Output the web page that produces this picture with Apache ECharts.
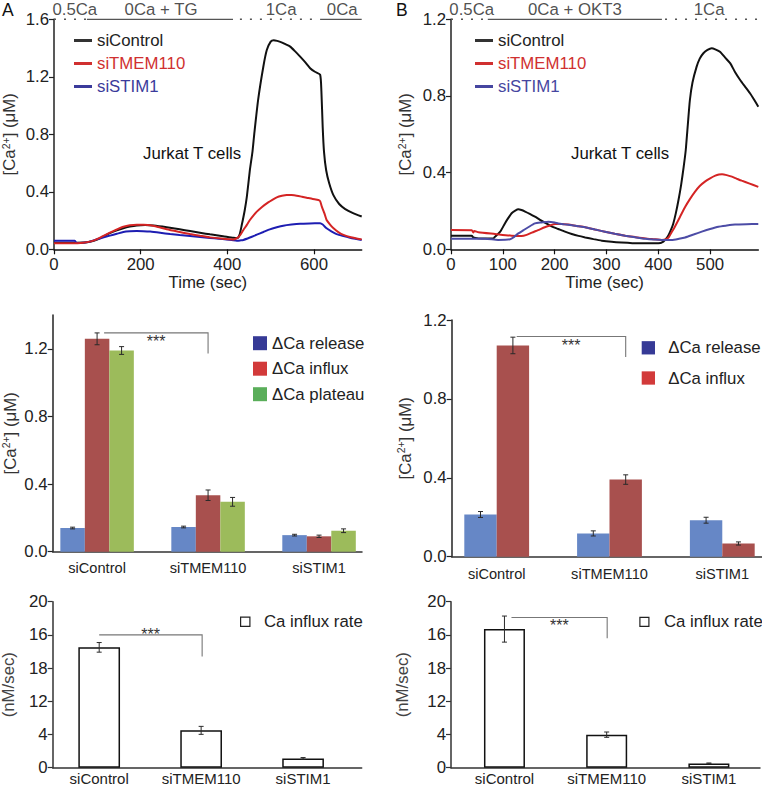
<!DOCTYPE html>
<html><head><meta charset="utf-8">
<script src="https://cdn.jsdelivr.net/npm/echarts@6/dist/echarts.min.js"></script>
<style>html,body{margin:0;padding:0;background:#fff}#c{width:762px;height:788px}</style>
</head><body><div id="c"></div>
<script>
// ================= DATA =================
const groups = ['siControl', 'siTMEM110', 'siSTIM1'];

// Panel A traces: [time (sec), [Ca2+] (uM)]
const ctrlA = [[0,0.046],[40,0.046],[70,0.047],[85,0.054],[98,0.066],[113,0.088],[129,0.112],[145,0.132],[160,0.147],[175,0.158],[191,0.166],[210,0.169],[230,0.165],[260,0.153],[290,0.139],[314,0.127],[340,0.114],[360,0.104],[390,0.091],[414,0.080],[423,0.078],[428,0.1],[433,0.165],[440,0.27],[445,0.366],[452,0.552],[458,0.68],[462,0.8],[471,1.04],[483,1.27],[491,1.386],[500,1.445],[507,1.455],[515,1.45],[525,1.44],[535,1.425],[545,1.41],[557,1.375],[568,1.34],[580,1.30],[591,1.26],[602,1.235],[614,1.215],[617,1.1],[620,0.85],[623,0.68],[628,0.55],[635,0.46],[645,0.375],[658,0.315],[672,0.28],[690,0.252],[710,0.228]];
const tmemA = [[0,0.042],[40,0.042],[68,0.046],[85,0.055],[98,0.069],[113,0.092],[129,0.116],[145,0.138],[160,0.157],[175,0.167],[191,0.171],[206,0.17],[222,0.167],[240,0.155],[260,0.139],[287,0.122],[314,0.106],[337,0.094],[360,0.083],[385,0.075],[414,0.069],[425,0.083],[431,0.105],[437,0.134],[445,0.17],[452,0.204],[460,0.235],[468,0.262],[480,0.295],[491,0.32],[503,0.342],[514,0.361],[526,0.372],[537,0.378],[548,0.377],[560,0.373],[572,0.366],[583,0.359],[597,0.35],[610,0.343],[614,0.335],[618,0.297],[624,0.25],[629,0.204],[637,0.172],[645,0.146],[656,0.12],[668,0.1],[685,0.084],[710,0.069]];
const stimA = [[0,0.06],[48,0.06],[52,0.043],[68,0.046],[85,0.055],[98,0.069],[113,0.082],[129,0.095],[145,0.108],[160,0.12],[175,0.125],[191,0.127],[206,0.126],[222,0.123],[245,0.115],[268,0.106],[290,0.099],[314,0.093],[337,0.086],[360,0.079],[380,0.074],[398,0.069],[410,0.065],[422,0.06],[430,0.062],[437,0.065],[452,0.082],[468,0.102],[483,0.12],[498,0.139],[514,0.153],[529,0.164],[548,0.172],[568,0.178],[590,0.18],[614,0.181],[620,0.172],[629,0.146],[640,0.125],[652,0.106],[668,0.092],[683,0.081],[698,0.072],[710,0.065]];

// Panel B traces
const ctrlB = [[0,0.071],[40,0.071],[43,0.062],[53,0.057],[70,0.056],[82,0.057],[85,0.066],[95,0.092],[104,0.135],[111,0.165],[117,0.188],[124,0.202],[130,0.209],[136,0.205],[143,0.197],[152,0.185],[162,0.17],[171,0.155],[181,0.139],[194,0.12],[207,0.106],[220,0.092],[233,0.08],[246,0.07],[259,0.062],[275,0.053],[291,0.045],[310,0.039],[329,0.035],[350,0.032],[375,0.031],[400,0.031],[410,0.04],[415,0.055],[420,0.075],[425,0.105],[429,0.135],[434,0.19],[439,0.257],[444,0.335],[449,0.43],[453,0.518],[457,0.65],[461,0.779],[466,0.87],[474,0.953],[480,0.995],[487,1.023],[495,1.04],[503,1.049],[511,1.042],[519,1.031],[529,1.0],[539,0.97],[548,0.925],[558,0.883],[567,0.85],[577,0.814],[585,0.78],[593,0.744]];
const tmemB = [[0,0.101],[40,0.1],[43,0.088],[45,0.096],[53,0.089],[85,0.08],[117,0.071],[136,0.069],[146,0.075],[156,0.087],[168,0.1],[181,0.115],[191,0.124],[201,0.132],[213,0.132],[226,0.129],[242,0.122],[259,0.115],[278,0.103],[297,0.092],[316,0.081],[336,0.071],[355,0.064],[375,0.057],[391,0.053],[407,0.049],[415,0.053],[420,0.062],[426,0.09],[432,0.118],[442,0.17],[452,0.222],[461,0.262],[471,0.301],[480,0.33],[490,0.353],[500,0.37],[510,0.384],[517,0.39],[523,0.391],[532,0.387],[542,0.379],[551,0.369],[561,0.358],[575,0.344],[593,0.326]];
const stimB = [[0,0.055],[66,0.055],[91,0.049],[114,0.052],[122,0.065],[130,0.083],[140,0.1],[149,0.115],[162,0.135],[175,0.14],[188,0.144],[200,0.14],[207,0.135],[220,0.13],[233,0.125],[246,0.12],[259,0.115],[278,0.103],[297,0.092],[316,0.081],[336,0.071],[355,0.063],[375,0.055],[391,0.051],[407,0.049],[426,0.049],[440,0.055],[452,0.062],[468,0.077],[484,0.092],[500,0.106],[516,0.118],[532,0.124],[548,0.129],[570,0.131],[593,0.132]];

// Solution protocol (time spans in sec)
const protoSegA = [[0,76,'dotted'],[76,413,'solid'],[429,598,'dotted'],[614,710,'solid']];
const protoLblA = [[48,'0.5Ca'],[247,'0Ca + TG'],[524,'1Ca'],[665,'0Ca']];
const protoSegB = [[0,70,'dotted'],[71,407,'solid'],[413,593,'dotted']];
const protoLblB = [[40,'0.5Ca'],[239,'0Ca + OKT3'],[498,'1Ca']];

// Summary bars, left (TG) column
const releaseL = [0.140, 0.146, 0.098];
const releaseLErr = [0.005, 0.005, 0.005];
const influxL = [1.259, 0.334, 0.091];
const influxLErr = [0.035, 0.031, 0.007];
const plateauL = [1.19, 0.295, 0.124];
const plateauLErr = [0.023, 0.026, 0.011];
// Summary bars, right (OKT3) column
const releaseR = [0.214, 0.118, 0.185];
const releaseRErr = [0.015, 0.013, 0.015];
const influxR = [1.071, 0.391, 0.067];
const influxRErr = [0.042, 0.024, 0.008];
// Influx rate (nM/sec)
const rateL = [14.5, 4.5, 1.12];
const rateLErr = [0.58, 0.48, 0.1];
const rateR = [16.7, 3.98, 0.52];
const rateRErr = [1.57, 0.32, 0.05];
// significance brackets: [fromGroup, toGroup, topY, tickEndY]
const sigMidL = [0, 1, 1.294, 1.172];
const sigMidR = [0, 1, 1.116, 1.012];
const sigBotL = [0, 1, 16.0, 13.4];
const sigBotR = [0, 1, 18.1, 15.6];
// tick labels as printed
const rateTickLabels = ['0', '4', '12', '18', '16', '20'];
const timeTicksA = [0, 200, 400, 600];
const timeTicksB = [0, 100, 200, 300, 400, 500];

// ================= STYLE / LAYOUT =================
const FONT = 'Liberation Sans, Arial, Helvetica, sans-serif';
const FS = 16.8;
const TXT = '#222';
const C_BLACK = '#111', C_RED = '#d42424', C_BLUE_A = '#1d1db2', C_BLUE_B = '#4c4ca6';
const BAR_BLUE = '#6687c6', BAR_RED = '#a8504e', BAR_GREEN = '#9cbb5b';
const LEG_BLUE = '#363a96', LEG_RED = '#d23a3a', LEG_GREEN = '#5aae5a';
const caName = '[Ca{sup|2+}] (μM)';
const caRich = { sup: { fontSize: 10.5, padding: [0, 0, 8, 0], fontFamily: FONT, color: '#333' } };

const grids = [
  { left: 54, top: 19.3, width: 307.7, height: 230 },
  { left: 451, top: 19.3, width: 307.3, height: 230 },
  { left: 52.7, top: 315, width: 309.3, height: 236.7 },
  { left: 451.7, top: 320, width: 315.7, height: 236.7 },
  { left: 52.7, top: 601.7, width: 309, height: 166 },
  { left: 451, top: 601.7, width: 309, height: 166 }
].map(g => Object.assign({ outerBoundsMode: 'none', containLabel: false }, g));

function line(w, c) { return { show: true, onZero: false, lineStyle: { color: c || '#222', width: w } }; }

function timeAxis(gi, max, ticks) {
  return {
    gridIndex: gi, type: 'value', min: 0, max: max,
    axisLine: line(1.5, '#111'),
    axisTick: { show: true, length: 5, customValues: ticks, lineStyle: { color: '#111', width: 1.2 } },
    axisLabel: { customValues: ticks, margin: 7, fontSize: FS, color: TXT, fontFamily: FONT },
    splitLine: { show: false },
    name: 'Time (sec)', nameLocation: 'middle', nameGap: 24,
    nameTextStyle: { fontSize: FS, color: TXT, fontFamily: FONT }
  };
}
function groupAxis(gi, min, max, margin, fs) {
  return {
    gridIndex: gi, type: 'value', min: min, max: max,
    axisLine: line(1.5, '#333'),
    axisTick: { show: false },
    axisLabel: { customValues: [0, 1, 2], margin: margin, fontSize: fs, color: TXT, fontFamily: FONT,
      formatter: v => groups[Math.round(v)] },
    splitLine: { show: false }
  };
}
function concAxis(gi, max, ticks, gap) {
  return {
    gridIndex: gi, type: 'value', min: 0, max: max, interval: 0.4,
    axisLine: line(1.5, '#222'),
    axisTick: { show: true, length: 5, customValues: ticks, lineStyle: { color: '#222', width: 1.2 } },
    axisLabel: { customValues: ticks, margin: 5, fontSize: FS, color: TXT, fontFamily: FONT, formatter: v => v.toFixed(1) },
    splitLine: { show: false },
    name: caName, nameLocation: 'middle', nameRotate: 90, nameGap: gap,
    nameTextStyle: { fontSize: FS, color: '#333', fontFamily: FONT, rich: caRich }
  };
}
function rateAxis(gi, gap) {
  return {
    gridIndex: gi, type: 'value', min: 0, max: 20, interval: 4,
    axisLine: line(1.5, '#333'),
    axisTick: { show: true, length: 5, lineStyle: { color: '#333', width: 1.2 } },
    axisLabel: { margin: 5, fontSize: FS, color: TXT, fontFamily: FONT, formatter: v => rateTickLabels[Math.round(v / 4)] },
    splitLine: { show: false },
    name: '(nM/sec)', nameLocation: 'middle', nameRotate: 90, nameGap: gap,
    nameTextStyle: { fontSize: FS, color: '#444', fontFamily: FONT }
  };
}

const xAxis = [
  timeAxis(0, 710, timeTicksA),
  timeAxis(1, 593, timeTicksB),
  groupAxis(2, -0.4, 2.387, 9, 14.6),
  groupAxis(3, -0.399, 2.4, 10, 14.6),
  groupAxis(4, -0.456, 2.575, 3, 15),
  groupAxis(5, -0.523, 2.5, 3, 15)
];
const yAxis = [
  concAxis(0, 1.6, [0, 0.4, 0.8, 1.2, 1.6], 35),
  concAxis(1, 1.2, [0, 0.4, 0.8, 1.2], 36),
  concAxis(2, 1.4, [0, 0.4, 0.8, 1.2], 33),
  concAxis(3, 1.2, [0, 0.4, 0.8, 1.2], 37),
  rateAxis(4, 36),
  rateAxis(5, 40)
];

function trace(name, data, color, gi) {
  return { type: 'line', name: name, data: data, xAxisIndex: gi, yAxisIndex: gi, symbol: 'none', showSymbol: false,
    smooth: 0.2, lineStyle: { color: color, width: 2 }, itemStyle: { color: color }, silent: true, z: 3 };
}
function protoSeries(gi, top, segs, labels) {
  const out = segs.map(s => ({
    type: 'line', xAxisIndex: gi, yAxisIndex: gi, symbol: 'none', silent: true, clip: false, z: 4,
    data: [[s[0], top], [s[1], top]],
    lineStyle: s[2] === 'dotted' ? { color: '#555', width: 1.6, type: [2, 8] } : { color: '#555', width: 1.2, type: 'solid' }
  }));
  out.push({
    type: 'scatter', xAxisIndex: gi, yAxisIndex: gi, symbol: 'circle', symbolSize: 1, silent: true, clip: false,
    itemStyle: { color: 'rgba(0,0,0,0)' },
    data: labels.map(l => ({ name: l[1], value: [l[0], top] })),
    label: { show: true, position: 'top', distance: 1, formatter: '{b}', fontSize: FS, color: TXT, fontFamily: FONT }
  });
  return out;
}
function bars(name, gi, vals, color, width, extra) {
  return Object.assign({ type: 'bar', name: name, xAxisIndex: gi, yAxisIndex: gi, barWidth: width, barGap: '0%',
    data: vals.map((v, i) => [i, v]), itemStyle: { color: color }, silent: true, z: 2 }, extra || {});
}
function errBars(gi, vals, errs, dx, cap) {
  return { type: 'custom', xAxisIndex: gi, yAxisIndex: gi, silent: true, z: 6,
    data: vals.map((v, i) => [i, v, errs[i]]),
    renderItem: function (params, api) {
      const x = api.value(0), v = api.value(1), e = api.value(2);
      const t = api.coord([x, v + e]), b = api.coord([x, v - e]);
      const cx = t[0] + dx;
      const st = { stroke: '#2a2a2a', lineWidth: 1 };
      return { type: 'group', children: [
        { type: 'line', shape: { x1: cx, y1: t[1], x2: cx, y2: b[1] }, style: st },
        { type: 'line', shape: { x1: cx - cap, y1: t[1], x2: cx + cap, y2: t[1] }, style: st },
        { type: 'line', shape: { x1: cx - cap, y1: b[1], x2: cx + cap, y2: b[1] }, style: st }
      ] };
    } };
}
function bracket(gi, item, dx1, dx2, textDy) {
  return { type: 'custom', xAxisIndex: gi, yAxisIndex: gi, silent: true, z: 7, data: [item],
    renderItem: function (params, api) {
      const a = api.coord([api.value(0), api.value(2)]);
      const b = api.coord([api.value(1), api.value(2)]);
      const c = api.coord([api.value(1), api.value(3)]);
      const x1 = a[0] + dx1, x2 = b[0] + dx2;
      return { type: 'group', children: [
        { type: 'polyline', shape: { points: [[x1, a[1]], [x2, a[1]], [x2, c[1]]] }, style: { stroke: '#777', lineWidth: 1.1, fill: null } },
        { type: 'text', x: (x1 + x2) / 2, y: a[1] + textDy,
          style: { text: '***', fontSize: 16, fontFamily: FONT, fill: '#333', align: 'center', verticalAlign: 'top' } }
      ] };
    } };
}

const series = [].concat(
  [trace('siControl', ctrlA, C_BLACK, 0), trace('siSTIM1', stimA, C_BLUE_A, 0), trace('siTMEM110', tmemA, C_RED, 0)],
  [trace('siControl', ctrlB, C_BLACK, 1), trace('siTMEM110', tmemB, C_RED, 1), trace('siSTIM1', stimB, C_BLUE_B, 1)],
  protoSeries(0, 1.6, protoSegA, protoLblA),
  protoSeries(1, 1.2, protoSegB, protoLblB),
  [
    bars('ΔCa release', 2, releaseL, BAR_BLUE, 24.5),
    bars('ΔCa influx', 2, influxL, BAR_RED, 24.5),
    bars('ΔCa plateau', 2, plateauL, BAR_GREEN, 24.5),
    errBars(2, releaseL, releaseLErr, -24.5, 2.5),
    errBars(2, influxL, influxLErr, 0, 2.5),
    errBars(2, plateauL, plateauLErr, 24.5, 2.5),
    bracket(2, sigMidL, 7, 0, 0.5),

    bars('ΔCa release', 3, releaseR, BAR_BLUE, 32.4),
    bars('ΔCa influx', 3, influxR, BAR_RED, 32.4),
    errBars(3, releaseR, releaseRErr, -16.2, 2.5),
    errBars(3, influxR, influxRErr, 16.2, 2.5),
    bracket(3, sigMidR, 20, 16.2, 1),

    bars('Ca influx rate', 4, rateL, '#fff', 41.7, { itemStyle: { color: '#fff', borderColor: '#111', borderWidth: 1.5 } }),
    errBars(4, rateL, rateLErr, 0, 2.5),
    bracket(4, sigBotL, 0, 1, -8.5),

    bars('Ca influx rate', 5, rateR, '#fff', 41, { itemStyle: { color: '#fff', borderColor: '#111', borderWidth: 1.5 } }),
    errBars(5, rateR, rateRErr, 0, 2.5),
    bracket(5, sigBotR, 7, 0.5, 0.5)
  ]
);

const legTxt = { fontSize: FS, color: TXT, fontFamily: FONT };
function spacedTxt(w) {
  return Object.assign({}, legTxt, { rich: { g: { width: w, fontSize: FS } } });
}
const spaced = name => '{g| }' + name;
const legend = [
  { left: 74, top: 32, orient: 'vertical', icon: 'rect', itemWidth: 18, itemHeight: 3, itemGap: 6, selectedMode: false, padding: 0,
    textStyle: legTxt,
    data: [
      { name: 'siControl', itemStyle: { color: '#333' }, textStyle: { color: '#222' } },
      { name: 'siTMEM110', itemStyle: { color: '#d03030' }, textStyle: { color: '#d03030' } },
      { name: 'siSTIM1', itemStyle: { color: '#3b3b9b' }, textStyle: { color: '#3b3b9b' } }
    ] },
  { left: 475, top: 32, orient: 'vertical', icon: 'rect', itemWidth: 18, itemHeight: 3, itemGap: 6, selectedMode: false, padding: 0,
    textStyle: legTxt,
    data: [
      { name: 'siControl', itemStyle: { color: '#333' }, textStyle: { color: '#222' } },
      { name: 'siTMEM110', itemStyle: { color: '#d03030' }, textStyle: { color: '#d03030' } },
      { name: 'siSTIM1', itemStyle: { color: '#4646a0' }, textStyle: { color: '#4646a0' } }
    ] },
  { left: 253, top: 334.7, orient: 'vertical', icon: 'rect', itemWidth: 14, itemHeight: 14, itemGap: 8.5, selectedMode: false, padding: 0,
    textStyle: legTxt,
    data: [
      { name: 'ΔCa release', itemStyle: { color: LEG_BLUE } },
      { name: 'ΔCa influx', itemStyle: { color: LEG_RED } },
      { name: 'ΔCa plateau', itemStyle: { color: LEG_GREEN } }
    ] },
  { left: 641.7, top: 339.3, orient: 'vertical', icon: 'rect', itemWidth: 13.3, itemHeight: 13.3, itemGap: 13.2, selectedMode: false, padding: 0,
    textStyle: spacedTxt(8.3), formatter: spaced,
    data: [
      { name: 'ΔCa release', itemStyle: { color: LEG_BLUE } },
      { name: 'ΔCa influx', itemStyle: { color: LEG_RED } }
    ] },
  { left: 240, top: 613.3, orient: 'vertical', icon: 'rect', itemWidth: 9.3, itemHeight: 9.3, selectedMode: false, padding: 0,
    textStyle: spacedTxt(9), formatter: spaced,
    data: [{ name: 'Ca influx rate', itemStyle: { color: '#fff', borderColor: '#222', borderWidth: 1.2 } }] },
  { left: 639.3, top: 613.3, orient: 'vertical', icon: 'rect', itemWidth: 9, itemHeight: 9, selectedMode: false, padding: 0,
    textStyle: spacedTxt(10), formatter: spaced,
    data: [{ name: 'Ca influx rate', itemStyle: { color: '#fff', borderColor: '#222', borderWidth: 1.2 } }] }
];

const tStyle = (fs) => ({ fontSize: fs, fontWeight: 'normal', color: '#111', fontFamily: FONT });
const title = [
  { text: 'A', left: 2, top: 1, padding: 0, textStyle: tStyle(17.5) },
  { text: 'B', left: 396, top: 1, padding: 0, textStyle: tStyle(17.5) },
  { text: 'Jurkat T cells', left: 143, top: 145, padding: 0, textStyle: tStyle(FS) },
  { text: 'Jurkat T cells', left: 571, top: 145, padding: 0, textStyle: tStyle(FS) }
];

const chart = echarts.init(document.getElementById('c'), null, { renderer: 'svg', width: 762, height: 788 });
chart.setOption({
  animation: false,
  backgroundColor: '#fff',
  textStyle: { fontFamily: FONT },
  title: title,
  legend: legend,
  grid: grids,
  xAxis: xAxis,
  yAxis: yAxis,
  series: series
});
</script>
</body></html>
